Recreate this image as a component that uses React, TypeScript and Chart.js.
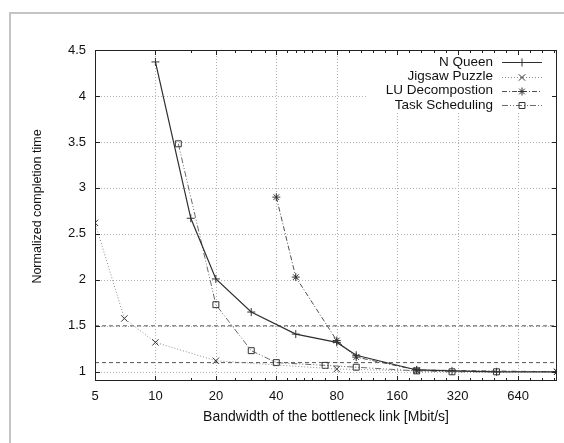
import React, { useEffect, useRef } from 'react';
import { Chart, registerables } from 'chart.js';
import { drawPoint } from 'chart.js/helpers';

Chart.register(...registerables);

const FONT = '"Liberation Sans", Arial, Helvetica, sans-serif';

// ---- axis data ----
const xMajorTicks = [5, 10, 20, 40, 80, 160, 320, 640];
const xMinorTicks = [15, 25, 30, 35, 45, 50, 55, 60, 70, 92, 106, 121, 139, 184, 211, 243, 279, 368, 422, 485, 557, 735, 844, 970];
const yTicks = [1, 1.5, 2, 2.5, 3, 3.5, 4, 4.5];
const xLimits = [5, 1000];
const yLimits = [0.9, 4.5];
const refLineLevels = [1.1, 1.5];

const xTitle = 'Bandwidth of the bottleneck link [Mbit/s]';
const yTitle = 'Normalized completion time';

// ---- series data ----
const seriesNames = ['N Queen', 'Jigsaw Puzzle', 'LU Decompostion', 'Task Scheduling'];

const nQueenX = [10, 15, 20, 30, 50, 80, 100, 200, 300, 500, 1000];
const nQueenY = [4.37, 2.67, 2.01, 1.65, 1.41, 1.32, 1.18, 1.02, 1.01, 1.0, 1.0];

const jigsawX = [5, 7, 10, 20, 80, 200, 1000];
const jigsawY = [2.62, 1.58, 1.32, 1.12, 1.03, 1.01, 1.0];

const luX = [40, 50, 80, 100, 200, 1000];
const luY = [2.9, 2.03, 1.34, 1.16, 1.02, 1.0];

const taskX = [13, 20, 30, 40, 70, 100, 200, 300, 500];
const taskY = [3.48, 1.73, 1.23, 1.1, 1.07, 1.05, 1.01, 1.0, 1.0];

const seriesX = [nQueenX, jigsawX, luX, taskX];
const seriesY = [nQueenY, jigsawY, luY, taskY];

const seriesStyles = [
  { color: '#2e2e2e', dash: [] as number[], width: 1.2, point: 'cross', radius: 4 },
  { color: '#8c8c8c', dash: [1, 2], width: 1, point: 'crossRot', radius: 4.5 },
  { color: '#505050', dash: [5, 2, 1, 2], width: 1, point: 'star', radius: 4 },
  { color: '#6a6a6a', dash: [6, 2, 1, 2, 1, 2], width: 1, point: 'rect', radius: 4.2 },
];

const TEXT = '#111111';

const decorPlugin = {
  id: 'gnuplotDecor',
  beforeDatasetsDraw(chart: any) {
    const { ctx, chartArea: a, scales } = chart;
    const x = scales.x;
    const y = scales.y;
    ctx.save();
    ctx.strokeStyle = '#b0b0b0';
    ctx.lineWidth = 1;
    ctx.setLineDash([1, 2]);
    xMajorTicks.forEach((v) => {
      if (v === xLimits[0]) return;
      const px = Math.round(x.getPixelForValue(v)) + 0.5;
      ctx.beginPath();
      ctx.moveTo(px, a.top);
      ctx.lineTo(px, a.bottom);
      ctx.stroke();
    });
    yTicks.forEach((v) => {
      const py = Math.round(y.getPixelForValue(v)) + 0.5;
      ctx.beginPath();
      ctx.moveTo(a.left, py);
      ctx.lineTo(a.right, py);
      ctx.stroke();
    });
    ctx.setLineDash([]);
    // legend background
    ctx.fillStyle = '#ffffff';
    ctx.fillRect(a.right - 190, a.top + 1, 189, 61);
    ctx.restore();
  },
  afterDraw(chart: any) {
    const { ctx, chartArea: a, scales } = chart;
    const x = scales.x;
    const y = scales.y;
    ctx.save();
    // frame
    ctx.strokeStyle = '#222';
    ctx.lineWidth = 1;
    ctx.strokeRect(a.left + 0.5, a.top + 0.5, a.right - a.left - 1, a.bottom - a.top - 1);
    // tick marks
    ctx.beginPath();
    xMajorTicks.forEach((v) => {
      const px = Math.round(x.getPixelForValue(v)) + 0.5;
      ctx.moveTo(px, a.bottom);
      ctx.lineTo(px, a.bottom - 5);
      ctx.moveTo(px, a.top);
      ctx.lineTo(px, a.top + 5);
    });
    xMinorTicks.forEach((v) => {
      const px = Math.round(x.getPixelForValue(v)) + 0.5;
      ctx.moveTo(px, a.bottom);
      ctx.lineTo(px, a.bottom - 3);
      ctx.moveTo(px, a.top);
      ctx.lineTo(px, a.top + 3);
    });
    yTicks.forEach((v) => {
      const py = Math.round(y.getPixelForValue(v)) + 0.5;
      ctx.moveTo(a.left, py);
      ctx.lineTo(a.left + 5, py);
      ctx.moveTo(a.right, py);
      ctx.lineTo(a.right - 5, py);
    });
    ctx.stroke();

    // axis titles
    ctx.fillStyle = TEXT;
    ctx.textAlign = 'center';
    ctx.textBaseline = 'middle';
    ctx.font = `14px ${FONT}`;
    ctx.fillText(xTitle, (a.left + a.right) / 2, a.bottom + 36);
    ctx.save();
    ctx.translate(a.left - 57, (a.top + a.bottom) / 2 - 9);
    ctx.rotate(-Math.PI / 2);
    ctx.font = `12.5px ${FONT}`;
    ctx.fillText(yTitle, 0, 0);
    ctx.restore();

    // legend
    ctx.font = `13.5px ${FONT}`;
    ctx.textAlign = 'right';
    seriesNames.forEach((name, i) => {
      const st = seriesStyles[i];
      const ry = a.top + 12.3 + i * 14.2;
      ctx.fillStyle = TEXT;
      ctx.fillText(name, a.right - 64, ry);
      ctx.save();
      ctx.strokeStyle = st.color;
      ctx.lineWidth = st.width;
      ctx.setLineDash(st.dash);
      ctx.beginPath();
      ctx.moveTo(a.right - 55, Math.round(ry) + 0.5);
      ctx.lineTo(a.right - 15, Math.round(ry) + 0.5);
      ctx.stroke();
      ctx.setLineDash([]);
      ctx.strokeStyle = '#333';
      ctx.fillStyle = 'rgba(0,0,0,0)';
      ctx.lineWidth = 1;
      drawPoint(ctx, { pointStyle: st.point as any, radius: st.radius, borderWidth: 1, rotation: 0 } as any, a.right - 35, Math.round(ry) + 0.5);
      ctx.restore();
    });

    // outer frame
    ctx.strokeStyle = '#c4c4c4';
    ctx.lineWidth = 2;
    ctx.strokeRect(10, 13, 700, 600);
    ctx.restore();
  },
};

export default function App() {
  const canvasRef = useRef<HTMLCanvasElement | null>(null);

  useEffect(() => {
    const canvas = canvasRef.current;
    if (!canvas) return;

    const refSets = refLineLevels.map((lvl) => ({
      label: '_ref',
      data: xLimits.map((xv) => ({ x: xv, y: lvl })),
      borderColor: '#555555',
      borderWidth: 1,
      borderDash: [4, 3],
      pointRadius: 0,
      order: 10,
    }));

    const dataSets = seriesNames.map((name, i) => {
      const st = seriesStyles[i];
      return {
        label: name,
        data: seriesX[i].map((xv, j) => ({ x: xv, y: seriesY[i][j] })),
        borderColor: st.color,
        borderWidth: st.width,
        borderDash: st.dash,
        pointStyle: st.point,
        pointRadius: st.radius,
        pointBorderColor: '#333333',
        pointBackgroundColor: 'rgba(0,0,0,0)',
        pointBorderWidth: 1,
        tension: 0,
        order: 1,
      };
    });

    const chart = new Chart(canvas, {
      type: 'line',
      data: { datasets: [...refSets, ...dataSets] as any },
      options: {
        animation: false,
        responsive: false,
        maintainAspectRatio: false,
        layout: { padding: { left: 0, right: 7, top: 50, bottom: 0 } },
        plugins: {
          legend: { display: false },
          tooltip: { enabled: false },
        },
        scales: {
          x: {
            type: 'logarithmic',
            min: xLimits[0],
            max: xLimits[1],
            afterBuildTicks: (s: any) => {
              s.ticks = xMajorTicks.map((v) => ({ value: v }));
            },
            afterFit: (s: any) => {
              s.height = 62;
            },
            grid: { display: false, drawTicks: false },
            border: { display: false },
            ticks: {
              autoSkip: false,
              maxRotation: 0,
              minRotation: 0,
              padding: 8,
              color: TEXT,
              font: { family: FONT, size: 13 },
              callback: (v: any) => String(v),
            },
          },
          y: {
            type: 'linear',
            min: yLimits[0],
            max: yLimits[1],
            afterBuildTicks: (s: any) => {
              s.ticks = yTicks.map((v) => ({ value: v }));
            },
            afterFit: (s: any) => {
              s.width = 95;
            },
            grid: { display: false, drawTicks: false },
            border: { display: false },
            ticks: {
              padding: 9,
              color: TEXT,
              font: { family: FONT, size: 13 },
              callback: (v: any) => String(v),
            },
          },
        },
      },
      plugins: [decorPlugin],
    });

    return () => chart.destroy();
  }, []);

  return (
    <div style={{ position: 'fixed', left: 0, top: 0, width: 564, height: 443, background: '#fff' }}>
      <canvas ref={canvasRef} width={564} height={443} style={{ display: 'block' }} />
    </div>
  );
}
